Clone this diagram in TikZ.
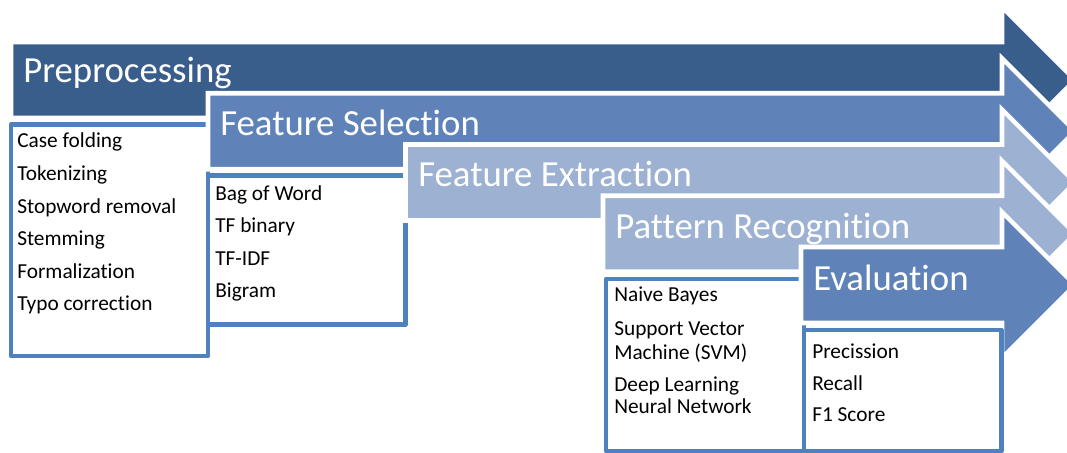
\documentclass[tikz,border=0pt]{standalone}
\usepackage{fontspec}
\setmainfont{Carlito}[Ligatures={NoCommon}]

\definecolor{stageDark}{HTML}{3A5E8C}
\definecolor{stageMid}{HTML}{5F83B9}
\definecolor{stageLight}{HTML}{9DB1D3}
\definecolor{boxLine}{HTML}{4F81BD}

\tikzset{
  stage/.style={draw=white, line width=3.4pt, line join=miter},
  listbox/.style={draw=boxLine, fill=white, line width=3.6pt, line join=round},
  stagetitle/.style={anchor=base west, inner sep=0pt, text=white,
                     font=\fontsize{27.6}{33}\selectfont},
  item/.style={anchor=base west, inner sep=0pt, text=black,
               font=\fontsize{16}{19}\selectfont},
}

% block arrow: #1 left x, #2 centre y, #3 fill colour
\newcommand\stagearrow[3]{%
  \filldraw[stage, fill=#3]
    ({#1},{#2-38}) -- (1002,{#2-38}) -- (1002,{#2-73}) -- (1075,{#2})
    -- (1002,{#2+73}) -- (1002,{#2+38}) -- ({#1},{#2+38}) -- cycle;}

\begin{document}
\begin{tikzpicture}[x=0.75pt, y=-0.75pt]
  \useasboundingbox (0,0) rectangle (1067,453);
  \clip (0,0) rectangle (1067,453);

  % stage 1
  \stagearrow{11}{80}{stageDark}
  \node[stagetitle] (tPre) at (23,83) {Preprocessing};
  \draw[listbox] (11,124.5) rectangle (208,356);
  \node[item] (pre1) at (17,147.7) {Case folding};
  \node[item] (pre2) at (17,180)   {Tokenizing};
  \node[item] (pre3) at (17,213.3) {Stopword removal};
  \node[item] (pre4) at (17,245.7) {Stemming};
  \node[item] (pre5) at (17,278.3) {Formalization};
  \node[item] (pre6) at (17,310)   {Typo correction};

  % stage 2
  \stagearrow{208}{131.25}{stageMid}
  \node[stagetitle] (tSel) at (220,135) {Feature Selection};
  \draw[listbox] (208,175.5) rectangle (405.5,324.5);
  \node[item] (sel1) at (215,200.7) {Bag of Word};
  \node[item] (sel2) at (215,232.3) {TF binary};
  \node[item] (sel3) at (215,265)   {TF-IDF};
  \node[item] (sel4) at (215,297.3) {Bigram};

  % stage 3
  \stagearrow{405.5}{182.5}{stageLight}
  \node[stagetitle] (tExt) at (418,186.5) {Feature Extraction};

  % stage 4
  \stagearrow{603}{233.75}{stageLight}
  \node[stagetitle] (tPat) at (615,238) {Pattern Recognition};
  \draw[listbox] (606,279) rectangle (804,451);
  \node[item] (pat1) at (614,301.7) {Naive Bayes};
  \node[item] (pat2) at (614,335)   {Support Vector};
  \node[item] (pat3) at (614,359.3) {Machine (SVM)};
  \node[item] (pat4) at (614,391.7) {Deep Learning};
  \node[item] (pat5) at (614,413.3) {Neural Network};

  % stage 5
  \stagearrow{801}{285}{stageMid}
  \node[stagetitle] (tEva) at (813,290) {Evaluation};
  \draw[listbox] (804,330) rectangle (1001.5,451);
  \node[item] (eva1) at (812,358.3) {Precission};
  \node[item] (eva2) at (812,390)   {Recall};
  \node[item] (eva3) at (812,421.7) {F1 Score};
\end{tikzpicture}
\end{document}
